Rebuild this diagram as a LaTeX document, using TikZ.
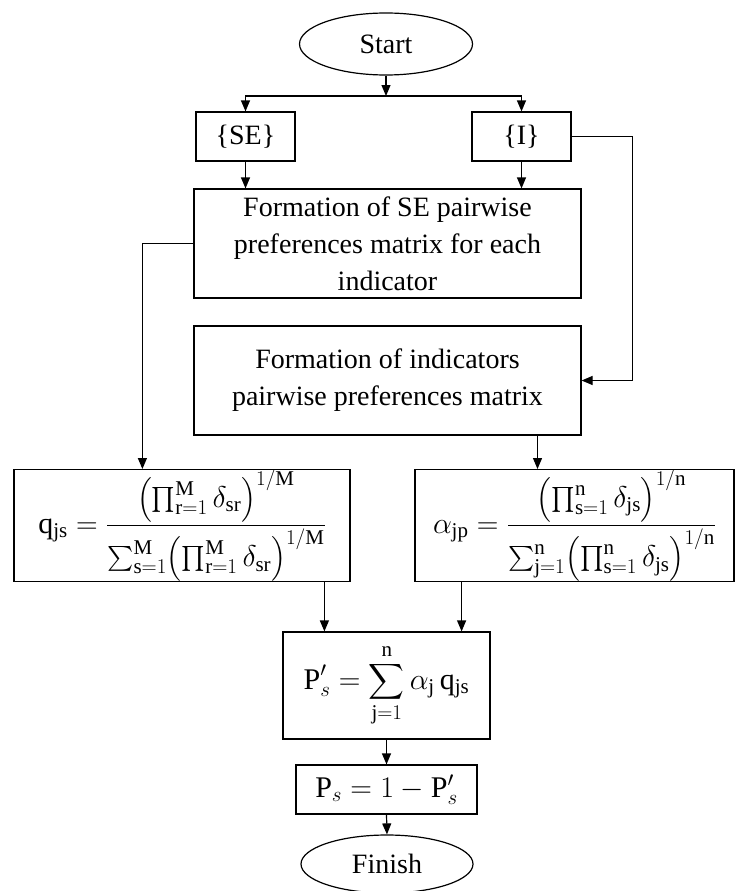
\documentclass[tikz,border=0pt]{standalone}
\usepackage{fix-cm}
\usepackage{amsmath}
\usepackage{fontspec}
\setmainfont{Liberation Serif}
\usetikzlibrary{arrows.meta,shapes.geometric}
\begin{document}
\begin{tikzpicture}[x=1pt,y=-1pt,
  every node/.style={font=\fontsize{28}{37}\selectfont},
  mathfont/.style={font=\fontsize{30}{36}\selectfont},
  box/.style={draw, line width=1.2pt, rectangle, inner sep=0pt, align=center},
  term/.style={draw, line width=1.2pt, ellipse, inner sep=0pt},
  arr/.style={line width=1.2pt, -{Triangle[length=11pt,width=9pt]}},
  conn/.style={line width=1.2pt}]
\useasboundingbox (0,0) rectangle (736,891);
\node[term, minimum width=173pt, minimum height=62pt] (start) at (386,44) {Start};
\coordinate (jn) at (386,96);
\node[box, minimum width=99pt, minimum height=49pt] (se) at (245.5,136.5) {\{SE\}};
\node[box, minimum width=99pt, minimum height=49pt] (ind) at (521.5,136.5) {\{I\}};
\node[box, minimum width=387pt, minimum height=109pt] (b1) at (387.5,243.5)
  {Formation of SE pairwise\\preferences matrix for each\\indicator};
\node[box, minimum width=387pt, minimum height=109pt] (b2) at (387.5,380.5)
  {Formation of indicators\\pairwise preferences matrix};
\node[box, mathfont, minimum width=336pt, minimum height=109pt] (q) at (182,525.5)
  {$\mathrm{q}_{\mathrm{js}} = \dfrac{\bigl(\prod_{\mathrm{r}=1}^{\mathrm{M}}\delta_{\mathrm{sr}}\bigr)^{1/\mathrm{M}}}{\sum_{\mathrm{s}=1}^{\mathrm{M}}\bigl(\prod_{\mathrm{r}=1}^{\mathrm{M}}\delta_{\mathrm{sr}}\bigr)^{1/\mathrm{M}}}$};
\node[box, mathfont, minimum width=319pt, minimum height=109pt] (al) at (574.5,525.5)
  {$\alpha_{\mathrm{jp}} = \dfrac{\bigl(\prod_{\mathrm{s}=1}^{\mathrm{n}}\delta_{\mathrm{js}}\bigr)^{1/\mathrm{n}}}{\sum_{\mathrm{j}=1}^{\mathrm{n}}\bigl(\prod_{\mathrm{s}=1}^{\mathrm{n}}\delta_{\mathrm{js}}\bigr)^{1/\mathrm{n}}}$};
\node[box, mathfont, minimum width=207pt, minimum height=107pt] (pp) at (386.5,685.5)
  {$\displaystyle \mathrm{P}'_{s} = \sum_{\mathrm{j}=1}^{\mathrm{n}} \alpha_{\mathrm{j}}\,\mathrm{q}_{\mathrm{js}}$};
\node[box, mathfont, minimum width=181pt, minimum height=49pt] (ps) at (386.5,789.5)
  {$\mathrm{P}_{s} = 1 - \mathrm{P}'_{s}$};
\node[term, minimum width=172pt, minimum height=58pt] (fin) at (387,864) {Finish};
% connectors
\draw[arr] (start) -- (jn);
\draw[arr] (jn) -| (se.north);
\draw[arr] (jn) -| (ind.north);
\draw[arr] (se.south) -- (se.south |- b1.north);
\draw[arr] (ind.south) -- (ind.south |- b1.north);
\draw[arr] (ind.east) -- ++(61,0) |- (b2.east);
\draw[arr] (b1.west) -| ([xshift=129pt]q.north west);
\draw[arr] ([xshift=150pt]b2.south) -- ([xshift=150pt]b2.south |- al.north);
\draw[arr] ([xshift=42pt]pp.north west |- q.south) -- ([xshift=42pt]pp.north west);
\draw[arr] ([xshift=-29pt]pp.north east |- al.south) -- ([xshift=-29pt]pp.north east);
\draw[arr] (pp.south) -- (ps.north);
\draw[arr] (ps.south) -- (fin.north);
\end{tikzpicture}
\end{document}
